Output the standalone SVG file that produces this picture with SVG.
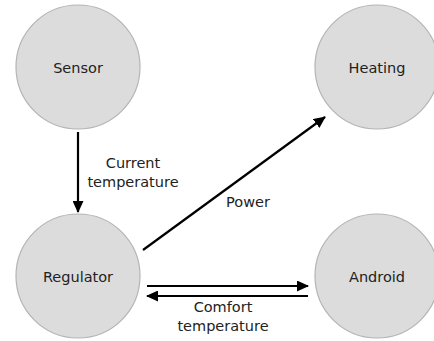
<svg xmlns="http://www.w3.org/2000/svg" width="434" height="341" viewBox="0 0 434 341">
<style>
.node circle{fill:#dcdcdc;stroke:#b4b4b4;stroke-width:1.2}
text{font-family:"DejaVu Sans","Liberation Sans",sans-serif;font-size:14.5px;fill:#222;text-anchor:middle}
.edge{stroke:#000;stroke-width:2.2;fill:none;marker-end:url(#ah)}
</style>
<defs>
<marker id="ah" markerWidth="12" markerHeight="11" refX="11" refY="5.5" orient="auto" markerUnits="userSpaceOnUse">
<path d="M0,0 L12,5.5 L0,11 z" fill="#000"/>
</marker>
</defs>
<rect width="434" height="341" fill="#fff"/>
<g id="sensor" class="node"><circle cx="78" cy="67" r="62"/><text x="78" y="73">Sensor</text></g>
<g id="heating" class="node"><circle cx="377" cy="67" r="62"/><text x="377" y="73">Heating</text></g>
<g id="regulator" class="node"><circle cx="78" cy="276" r="62"/><text x="78" y="282">Regulator</text></g>
<g id="android" class="node"><circle cx="377" cy="276" r="62"/><text x="377" y="282">Android</text></g>
<g id="connectors">
<line class="edge" x1="78" y1="132" x2="78" y2="212"/>
<line class="edge" x1="143" y1="250" x2="325" y2="117"/>
<line class="edge" x1="147" y1="286" x2="308" y2="286"/>
<line class="edge" x1="308" y1="296" x2="147" y2="296"/>
<text x="133" y="168">Current</text>
<text x="133" y="187">temperature</text>
<text x="248" y="207">Power</text>
<text x="223" y="312">Comfort</text>
<text x="223" y="331">temperature</text>
</g>
</svg>
